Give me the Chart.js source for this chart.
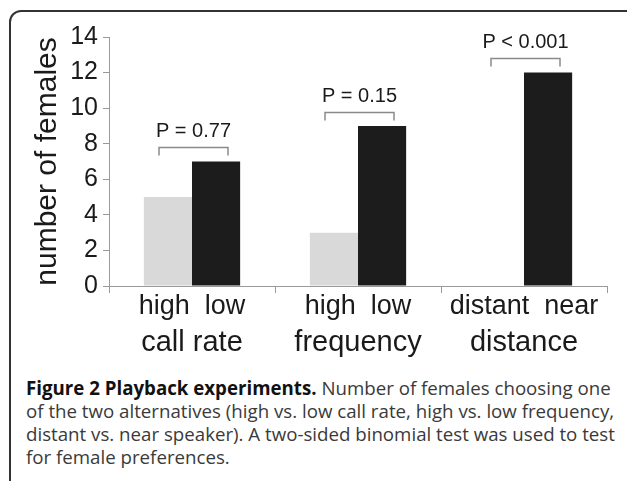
<!DOCTYPE html>
<html lang="en">
<head>
    <meta charset="UTF-8">
    <title>Playback experiments</title>
    <style>
        html, body { margin: 0; padding: 0; background: #fff; overflow: hidden; }
        body { width: 627px; height: 481px; position: relative; }
        #frame { position: absolute; left: 9px; top: 10px; width: 660px; height: 520px;
                 border: 2px solid #333; border-radius: 12px; box-sizing: border-box; }
        #chart { position: absolute; left: 0; top: 0; }
        #caption { position: absolute; left: 26px; top: 376px; width: 600px;
                   font-family: "Open Sans", sans-serif; font-size: 18.7px; line-height: 23px;
                   color: #3a3a3a; white-space: nowrap; }
        #caption b { color: #111; }
    </style>
</head>
<body>
    <div id="frame"></div>
    <canvas id="chart" width="627" height="372"></canvas>
    <div id="caption">
        <b>Figure 2 Playback experiments.</b> Number of females choosing one<br>
        of the two alternatives (high vs. low call rate, high vs. low frequency,<br>
        distant vs. near speaker). A two-sided binomial test was used to test<br>
        for female preferences.
    </div>

    <script src="https://cdn.jsdelivr.net/npm/chart.js"></script>
    <script>
        // data
        const choiceLabels = ['high  low', 'high  low', 'distant  near'];
        const groupNames = ['call rate', 'frequency', 'distance'];
        const firstChoice = [5, 3, 0];    // high / high / distant
        const secondChoice = [7, 9, 12];  // low / low / near
        const pLabels = ['P = 0.77', 'P = 0.15', 'P < 0.001'];
        const yTicks = [0, 2, 4, 6, 8, 10, 12, 14];

        const FONT = "'Liberation Sans', Arial, sans-serif";
        const AXIS = '#9a9a9a';
        const INK = '#1a1a1a';

        // brackets + p-values above each pair
        const brackets = {
            id: 'brackets',
            afterDatasetsDraw(chart) {
                const {ctx, scales: {x, y}} = chart;
                ctx.save();
                for (let i = 0; i < pLabels.length; i++) {
                    const c = x.getPixelForValue(i);
                    const left = c - 33, right = c + 36;
                    const yb = Math.round(y.getPixelForValue(Math.max(firstChoice[i], secondChoice[i]) + 0.8)) + 0.5;
                    ctx.strokeStyle = '#8a8a8a';
                    ctx.lineWidth = 1.5;
                    ctx.beginPath();
                    ctx.moveTo(left, yb + 8);
                    ctx.lineTo(left, yb);
                    ctx.lineTo(right, yb);
                    ctx.lineTo(right, yb + 8);
                    ctx.stroke();
                    ctx.fillStyle = INK;
                    ctx.font = '20px ' + FONT;
                    ctx.textAlign = 'center';
                    ctx.textBaseline = 'middle';
                    ctx.fillText(pLabels[i], (left + right) / 2, yb - 16);
                }
                ctx.restore();
            }
        };

        new Chart(document.getElementById('chart'), {
            type: 'bar',
            data: {
                labels: choiceLabels,
                datasets: [
                    { label: 'first', data: firstChoice, backgroundColor: '#d9d9d9' },
                    { label: 'second', data: secondChoice, backgroundColor: '#1c1c1c' }
                ]
            },
            options: {
                responsive: false,
                animation: false,
                categoryPercentage: 0.58,
                barPercentage: 1.0,
                layout: { padding: { left: 0, right: 20, top: 37, bottom: 0 } },
                plugins: { legend: { display: false }, tooltip: { enabled: false } },
                scales: {
                    x: {
                        type: 'category',
                        labels: choiceLabels,
                        offset: true,
                        grid: { drawOnChartArea: false, offset: true, tickLength: 7, color: AXIS },
                        border: { color: AXIS },
                        ticks: { font: { family: FONT, size: 27 }, color: INK, padding: -3,
                                 maxRotation: 0, autoSkip: false },
                        afterFit: s => { s.height = 40; }
                    },
                    x2: {
                        type: 'category',
                        position: 'bottom',
                        labels: groupNames,
                        offset: true,
                        grid: { display: false, drawTicks: false },
                        border: { display: false },
                        ticks: { font: { family: FONT, size: 29 }, color: INK, padding: 0,
                                 maxRotation: 0, autoSkip: false },
                        afterFit: s => { s.height = 46; }
                    },
                    y: {
                        min: 0,
                        max: 14,
                        afterBuildTicks: s => { s.ticks = yTicks.map(v => ({ value: v })); },
                        grid: { drawOnChartArea: false, tickLength: 6, color: AXIS },
                        border: { color: AXIS },
                        ticks: { font: { family: FONT, size: 25 }, color: INK, padding: 5 },
                        title: { display: true, text: 'number of females', color: INK,
                                 font: { family: FONT, size: 30 }, padding: { top: 30 } },
                        afterFit: s => { s.width = 109; }
                    }
                }
            },
            plugins: [brackets]
        });
    </script>
</body>
</html>
